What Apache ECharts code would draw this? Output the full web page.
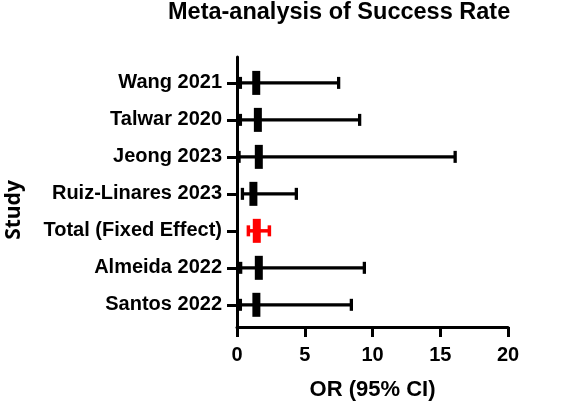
<!DOCTYPE html>
<html>
<head>
<meta charset="utf-8">
<script src="https://cdn.jsdelivr.net/npm/echarts@6/dist/echarts.min.js"></script>
<style>
  html, body { margin: 0; padding: 0; background: #fff; }
  #chart { width: 567px; height: 403px; }
</style>
</head>
<body>
<div id="chart"></div>
<script>
// study rows, top to bottom
var studies = ['Wang 2021', 'Talwar 2020', 'Jeong 2023', 'Ruiz-Linares 2023', 'Total (Fixed Effect)', 'Almeida 2022', 'Santos 2022']
var orValues = [1.42, 1.54, 1.61, 1.21, 1.46, 1.61, 1.43]
var lowerCI = [0.25, 0.25, 0.15, 0.4, 0.84, 0.27, 0.25]
var upperCI = [7.5, 9.05, 16.1, 4.38, 2.39, 9.4, 8.44]
var totalIndex = 4
var rows = studies.map(function(s, i) { return i })

var studyData = []
var totalData = []
rows.forEach(function(i) {
  var item = [orValues[i], i, lowerCI[i], upperCI[i]]
  if (i === totalIndex) {
    totalData.push(item)
  } else {
    studyData.push(item)
  }
})

function makeRender(color, lineW, capH) {
  return function(params, api) {
    var y = api.value(1)
    var mid = api.coord([api.value(0), y])
    var lo = api.coord([api.value(2), y])
    var hi = api.coord([api.value(3), y])
    var st = { stroke: color, lineWidth: lineW }
    return {
      type: 'group',
      children: [
        { type: 'line', shape: { x1: lo[0], y1: lo[1], x2: hi[0], y2: hi[1] }, style: st },
        { type: 'line', shape: { x1: lo[0], y1: lo[1] - capH / 2, x2: lo[0], y2: lo[1] + capH / 2 }, style: st },
        { type: 'line', shape: { x1: hi[0], y1: hi[1] - capH / 2, x2: hi[0], y2: hi[1] + capH / 2 }, style: st },
        { type: 'rect', shape: { x: mid[0] - 4, y: mid[1] - 12, width: 8, height: 24 }, style: { fill: color } }
      ]
    }
  }
}

var chart = echarts.init(document.getElementById('chart'))
chart.setOption({
  animation: false,
  backgroundColor: '#fff',
  title: {
    text: 'Meta-analysis of Success Rate',
    left: 168,
    top: 1,
    padding: 0,
    textStyle: { fontFamily: 'Arial', fontSize: 23.5, fontWeight: 'bold', color: '#000' }
  },
  graphic: [
    {
      type: 'text',
      x: 14,
      y: 210,
      rotation: Math.PI / 2,
      style: {
        text: 'Study',
        fontFamily: 'Open Sans',
        fontSize: 21,
        fontWeight: 'bold',
        fill: '#000',
        align: 'center',
        verticalAlign: 'middle'
      }
    }
  ],
  grid: {
    left: 237,
    right: 59,
    top: 57,
    bottom: 76,
    outerBoundsMode: 'none'
  },
  xAxis: {
    type: 'value',
    min: 0,
    max: 20,
    interval: 5,
    name: 'OR (95% CI)',
    nameLocation: 'middle',
    nameGap: 52,
    nameTextStyle: { fontFamily: 'Arial', fontSize: 22, fontWeight: 'bold', color: '#000' },
    axisLine: { show: true, onZero: false, lineStyle: { color: '#000', width: 3 } },
    axisTick: { show: true, length: 10, lineStyle: { color: '#000', width: 3 } },
    axisLabel: { fontFamily: 'Arial', fontSize: 20, fontWeight: 'bold', color: '#000', margin: 18 },
    splitLine: { show: false }
  },
  yAxis: {
    type: 'value',
    inverse: true,
    min: -0.7,
    max: 6.6,
    axisLine: { show: true, onZero: false, lineStyle: { color: '#000', width: 3 } },
    axisTick: { show: true, length: 10, customValues: rows, lineStyle: { color: '#000', width: 3 } },
    axisLabel: {
      customValues: rows,
      fontFamily: 'Arial',
      fontSize: 20,
      fontWeight: 'bold',
      color: '#000',
      margin: 15,
      formatter: function(v) {
        return studies[Math.round(v)]
      }
    },
    splitLine: { show: false }
  },
  series: [
    {
      name: 'Studies',
      type: 'custom',
      renderItem: makeRender('#000', 3.3, 12),
      encode: { x: [0, 2, 3], y: 1 },
      data: studyData
    },
    {
      name: 'Total',
      type: 'custom',
      renderItem: makeRender('#ff0000', 3.5, 11),
      encode: { x: [0, 2, 3], y: 1 },
      data: totalData
    }
  ]
})
</script>
</body>
</html>
